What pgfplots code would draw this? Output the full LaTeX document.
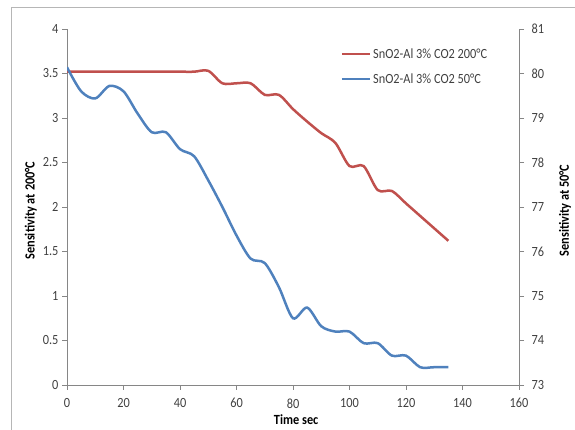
\documentclass[border=0pt]{standalone}
\usepackage{fontspec}
\setmainfont{Carlito}[FakeStretch=0.88]
\usepackage{pgfplots}
\usepackage{pgfplotstable}
\pgfplotsset{compat=1.18}

\definecolor{exred}{HTML}{C0504D}
\definecolor{exblue}{HTML}{4F81BD}
\definecolor{axgray}{HTML}{868686}
\definecolor{txt}{HTML}{404040}

% sensitivity at 200 C (left axis)
\pgfplotstableread{
t s
0 3.52
5 3.52
10 3.52
15 3.52
20 3.52
25 3.52
30 3.52
35 3.52
40 3.52
45 3.52
50 3.53
55 3.39
60 3.39
65 3.39
70 3.26
75 3.26
80 3.10
85 2.96
90 2.83
95 2.72
100 2.46
105 2.46
110 2.19
115 2.18
120 2.04
125 1.90
130 1.76
135 1.62
}\redtab

% sensitivity at 50 C (right axis)
\pgfplotstableread{
t s
0 80.14
5 79.60
10 79.44
15 79.72
20 79.60
25 79.10
30 78.68
35 78.68
40 78.30
45 78.14
50 77.60
55 77.00
60 76.36
65 75.84
70 75.74
75 75.20
80 74.50
85 74.74
90 74.32
95 74.20
100 74.20
105 73.94
110 73.94
115 73.66
120 73.66
125 73.40
130 73.40
135 73.40
}\bluetab

\pgfplotsset{
  base/.style={
    scale only axis, width=452pt, height=356pt,
    at={(67pt,45pt)}, anchor=south west,
    xmin=0, xmax=160,
    font=\fontsize{14}{16}\selectfont,
    /pgf/number format/assume math mode=true,
    tick align=outside, major tick length=5pt,
    every tick/.style={axgray, line width=0.6pt},
    axis line style={axgray, line width=0.8pt},
    tick label style={text=txt},
    label style={font=\fontsize{14}{16}\selectfont\bfseries},
  },
}

\begin{document}
\begin{tikzpicture}[x=1pt,y=1pt]
\useasboundingbox (0,0) rectangle (575,430);
\draw[axgray!60, line width=0.8pt] (11,0) -- (11,423) -- (575,423);

\begin{axis}[base,
  axis y line*=left, axis x line*=bottom,
  ymin=0, ymax=4, ytick={0,0.5,...,4},
  xtick={0,20,...,160},
  xticklabel style={yshift=-5pt},
  xlabel={Time sec},
  ylabel={Sensitivity at 200°C},
  xlabel style={at={(axis description cs:0.507,-0.097)}, anchor=center},
  ylabel style={at={(axis description cs:-0.08,0.49)}, anchor=center},
]
\addplot[exred, line width=2.5pt, smooth, tension=0.5] table[x=t, y=s] {\redtab};
\end{axis}

\begin{axis}[base,
  axis y line*=right, axis x line=none,
  ymin=73, ymax=81, ytick={73,74,...,81},
  yticklabel style={xshift=4pt},
  ylabel={Sensitivity at 50°C},
  ylabel style={at={(axis description cs:1.102,0.49)}, anchor=center, rotate=0},
  legend style={at={(axis description cs:0.605,0.952)}, anchor=north west,
    draw=none, fill=none, font=\fontsize{14}{16}\selectfont, text=txt,
    row sep=10pt, inner sep=0pt},
  legend cell align=left,
  legend image code/.code={\draw[#1] (0pt,0pt) -- (28pt,0pt);},
]
\addlegendimage{exred, line width=2.5pt}
\addlegendentry{SnO2-Al 3\% CO2 200°C}
\addplot[exblue, line width=2.5pt, smooth, tension=0.5] table[x=t, y=s] {\bluetab};
\addlegendentry{SnO2-Al 3\% CO2 50°C}
\end{axis}
\end{tikzpicture}
\end{document}
